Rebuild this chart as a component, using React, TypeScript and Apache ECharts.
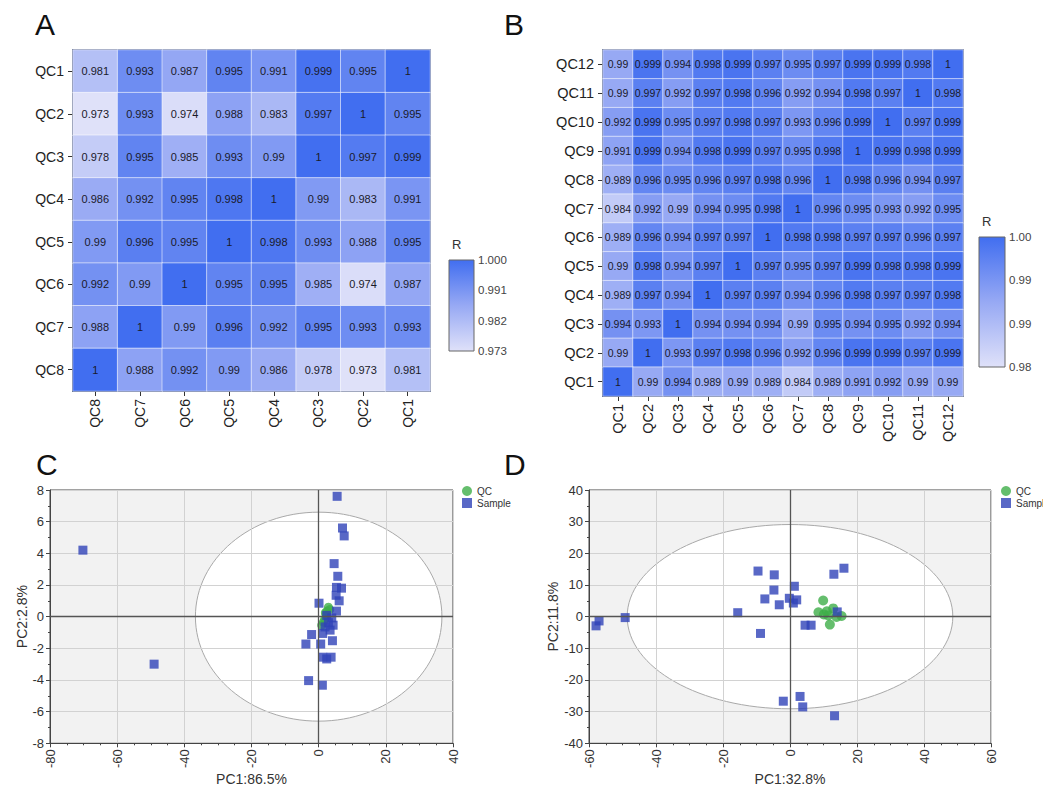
import React, { useEffect, useRef } from "react";
import * as echarts from "echarts";

const FONT = "'Liberation Sans', Arial, sans-serif";

// ---------- Panel A ----------
const rowsA = ["QC1", "QC2", "QC3", "QC4", "QC5", "QC6", "QC7", "QC8"];
const colsA = ["QC8", "QC7", "QC6", "QC5", "QC4", "QC3", "QC2", "QC1"];
const corrA = [
  [0.981, 0.993, 0.987, 0.995, 0.991, 0.999, 0.995, 1],
  [0.973, 0.993, 0.974, 0.988, 0.983, 0.997, 1, 0.995],
  [0.978, 0.995, 0.985, 0.993, 0.99, 1, 0.997, 0.999],
  [0.986, 0.992, 0.995, 0.998, 1, 0.99, 0.983, 0.991],
  [0.99, 0.996, 0.995, 1, 0.998, 0.993, 0.988, 0.995],
  [0.992, 0.99, 1, 0.995, 0.995, 0.985, 0.974, 0.987],
  [0.988, 1, 0.99, 0.996, 0.992, 0.995, 0.993, 0.993],
  [1, 0.988, 0.992, 0.99, 0.986, 0.978, 0.973, 0.981],
];
const rangeA = [0.973, 1.0];
const ticksA = ["1.000", "0.991", "0.982", "0.973"];

// ---------- Panel B ----------
const rowsB = ["QC12", "QC11", "QC10", "QC9", "QC8", "QC7", "QC6", "QC5", "QC4", "QC3", "QC2", "QC1"];
const colsB = ["QC1", "QC2", "QC3", "QC4", "QC5", "QC6", "QC7", "QC8", "QC9", "QC10", "QC11", "QC12"];
const corrB = [
  [0.99, 0.999, 0.994, 0.998, 0.999, 0.997, 0.995, 0.997, 0.999, 0.999, 0.998, 1],
  [0.99, 0.997, 0.992, 0.997, 0.998, 0.996, 0.992, 0.994, 0.998, 0.997, 1, 0.998],
  [0.992, 0.999, 0.995, 0.997, 0.998, 0.997, 0.993, 0.996, 0.999, 1, 0.997, 0.999],
  [0.991, 0.999, 0.994, 0.998, 0.999, 0.997, 0.995, 0.998, 1, 0.999, 0.998, 0.999],
  [0.989, 0.996, 0.995, 0.996, 0.997, 0.998, 0.996, 1, 0.998, 0.996, 0.994, 0.997],
  [0.984, 0.992, 0.99, 0.994, 0.995, 0.998, 1, 0.996, 0.995, 0.993, 0.992, 0.995],
  [0.989, 0.996, 0.994, 0.997, 0.997, 1, 0.998, 0.998, 0.997, 0.997, 0.996, 0.997],
  [0.99, 0.998, 0.994, 0.997, 1, 0.997, 0.995, 0.997, 0.999, 0.998, 0.998, 0.999],
  [0.989, 0.997, 0.994, 1, 0.997, 0.997, 0.994, 0.996, 0.998, 0.997, 0.997, 0.998],
  [0.994, 0.993, 1, 0.994, 0.994, 0.994, 0.99, 0.995, 0.994, 0.995, 0.992, 0.994],
  [0.99, 1, 0.993, 0.997, 0.998, 0.996, 0.992, 0.996, 0.999, 0.999, 0.997, 0.999],
  [1, 0.99, 0.994, 0.989, 0.99, 0.989, 0.984, 0.989, 0.991, 0.992, 0.99, 0.99],
];
const rangeB = [0.98, 1.0];
const ticksB = ["1.00", "0.99", "0.99", "0.98"];

// ---------- Panel C ----------
const qcC = [
  [2.9, 0.6], [2.5, 0.35], [3.3, 0.45], [2.2, 0.1], [2.0, 0.25],
  [1.8, -0.15], [1.4, -0.35], [0.9, -0.55],
];
const sampleC = [
  [-70.2, 4.2], [-49.0, -3.0], [5.5, 7.6], [7.1, 5.6], [7.6, 5.1],
  [4.6, 3.35], [5.7, 2.55], [5.3, 1.85], [6.8, 1.8], [5.2, 1.35],
  [6.1, 1.0], [0.1, 0.85], [5.3, 0.35], [2.4, 0.08], [3.9, -0.08],
  [2.9, -0.38], [4.3, -0.54], [1.9, -0.65], [3.4, -0.85], [1.2, -1.06],
  [-2.1, -1.13], [-3.8, -1.73], [0.6, -1.73], [4.1, -1.52], [1.2, -2.56],
  [2.4, -2.67], [3.7, -2.56], [-3.0, -4.04], [1.1, -4.33],
];
const ellipseC = [0, 0, 36.7, 6.6];

// ---------- Panel D ----------
const qcD = [
  [9.9, 5.1], [8.5, 1.4], [11.0, 1.7], [12.9, 2.6], [11.9, -2.5],
  [15.4, 0.2], [13.9, -0.1], [10.1, 0.7], [11.4, 0.4],
];
const sampleD = [
  [-57.0, -1.35], [-57.9, -2.9], [-49.2, -0.3], [-15.6, 1.25], [-9.55, 14.4],
  [-4.7, 13.2], [-4.8, 8.4], [-7.5, 5.6], [-3.2, 3.75], [-8.8, -5.3],
  [-0.2, 5.8], [1.3, 9.6], [2.0, 5.3], [1.0, 4.3], [4.5, -2.7],
  [6.3, -2.7], [13.1, 13.4], [16.1, 15.3], [14.1, 1.5], [-2.0, -26.7],
  [3.0, -25.2], [3.8, -28.5], [13.3, -31.3],
];
const ellipseD = [0, 0, 48.6, 29.1];

const lightC = "#dfe1f9";
const midC = "#97a9f4";
const darkC = "#416ef0";

function heatData(m: number[][]) {
  const out: number[][] = [];
  m.forEach((row, r) => row.forEach((v, c) => out.push([c, r, v])));
  return out;
}

function heatAxes(gridIndex: number, cols: string[], rows: string[], labelSize: number) {
  const lineCol = "#2a3a66";
  return {
    x: {
      type: "category", gridIndex, data: cols, position: "bottom",
      axisLine: { show: true, lineStyle: { color: lineCol, width: 1.5 } },
      axisTick: { show: true, alignWithLabel: true, length: 5, lineStyle: { color: "#333" } },
      axisLabel: { rotate: 90, fontSize: labelSize, color: "#222", margin: 8, fontFamily: FONT },
      splitLine: { show: false }, splitArea: { show: false },
    },
    y: {
      type: "category", gridIndex, data: rows, inverse: true,
      axisLine: { show: true, lineStyle: { color: lineCol, width: 1.5 } },
      axisTick: { show: true, alignWithLabel: true, length: 5, lineStyle: { color: "#333" } },
      axisLabel: { fontSize: labelSize, color: "#222", margin: 9, fontFamily: FONT },
      splitLine: { show: false }, splitArea: { show: false },
    },
  };
}

function pcaAxes(gridIndex: number, xr: number[], xi: number, yr: number[], yi: number, xName: string, yName: string, yGap: number) {
  const c = "#444";
  return {
    x: {
      type: "value", gridIndex, min: xr[0], max: xr[1], interval: xi, z: 1,
      axisLine: { show: true, onZero: false, lineStyle: { color: c } },
      axisTick: { show: true, length: 4, lineStyle: { color: c } },
      minorTick: { show: true, splitNumber: 4, length: 2, lineStyle: { color: c } },
      axisLabel: { rotate: 90, fontSize: 13, color: "#333", margin: 6, fontFamily: FONT },
      splitLine: { show: true, lineStyle: { color: "#d2d2d2" } },
      name: xName, nameLocation: "middle", nameGap: 25,
      nameTextStyle: { fontSize: 14, color: "#333", fontFamily: FONT },
    },
    y: {
      type: "value", gridIndex, min: yr[0], max: yr[1], interval: yi, z: 1,
      axisLine: { show: true, onZero: false, lineStyle: { color: c } },
      axisTick: { show: true, length: 4, lineStyle: { color: c } },
      minorTick: { show: true, splitNumber: 2, length: 2, lineStyle: { color: c } },
      axisLabel: { fontSize: 13, color: "#333", margin: 6, fontFamily: FONT },
      splitLine: { show: true, lineStyle: { color: "#d2d2d2" } },
      name: yName, nameLocation: "middle", nameGap: yGap,
      nameTextStyle: { fontSize: 14, color: "#333", fontFamily: FONT },
    },
  };
}

function ellipseSeries(axisIndex: number, e: number[]) {
  return {
    type: "custom", xAxisIndex: axisIndex, yAxisIndex: axisIndex, z: 0, silent: true,
    data: [e],
    renderItem: (params: any, api: any) => {
      const c = api.coord([api.value(0), api.value(1)]);
      const p = api.coord([api.value(0) + api.value(2), api.value(1) + api.value(3)]);
      const cs = params.coordSys;
      return {
        type: "group",
        children: [
          { type: "rect", shape: { x: cs.x, y: cs.y, width: cs.width, height: cs.height }, style: { fill: "#f2f2f2", stroke: "#444", lineWidth: 1 } },
          { type: "ellipse", shape: { cx: c[0], cy: c[1], rx: Math.abs(p[0] - c[0]), ry: Math.abs(p[1] - c[1]) }, style: { fill: "#ffffff", stroke: "#a9a9a9", lineWidth: 1 } },
        ],
      };
    },
  };
}

function zeroLines(axisIndex: number) {
  return {
    type: "scatter", xAxisIndex: axisIndex, yAxisIndex: axisIndex, data: [], z: 2, silent: true,
    markLine: {
      silent: true, symbol: ["none", "none"], label: { show: false }, animation: false,
      lineStyle: { color: "#555", width: 1.3, type: "solid" },
      data: [{ xAxis: 0 }, { yAxis: 0 }],
    },
  };
}

function colorBar(x: number, y: number, w: number, h: number, ticks: string[]) {
  const kids: any[] = [
    { type: "text", left: x + 3, top: y - 22, style: { text: "R", font: `13px ${FONT}`, fill: "#333" } },
    {
      type: "rect", shape: { x, y, width: w, height: h },
      style: {
        fill: new echarts.graphic.LinearGradient(0, 0, 0, 1, [
          { offset: 0, color: darkC }, { offset: 0.5, color: midC }, { offset: 1, color: lightC },
        ]),
        stroke: "#666", lineWidth: 1,
      },
    },
  ];
  ticks.forEach((t, i) => {
    kids.push({
      type: "text", x: x + w + 4, y: y + (h * i) / (ticks.length - 1),
      style: { text: t, font: `11.5px ${FONT}`, fill: "#444", verticalAlign: "middle", align: "left" },
    });
  });
  return kids;
}

export default function App() {
  const ref = useRef<HTMLDivElement>(null);
  useEffect(() => {
    if (!ref.current) return;
    const chart = echarts.init(ref.current, undefined, { renderer: "svg" });
    const hA = heatAxes(0, colsA, rowsA, 14);
    const hB = heatAxes(1, colsB, rowsB, 14.5);
    const pC = pcaAxes(2, [-80, 40], 20, [-8, 8], 2, "PC1:86.5%", "PC2:2.8%", 17);
    const pD = pcaAxes(3, [-60, 60], 20, [-40, 40], 10, "PC1:32.8%", "PC2:11.8%", 27);
    const letter = (t: string, x: number, y: number) => ({
      type: "text", left: x, top: y, style: { text: t, font: `30px ${FONT}`, fill: "#111" },
    });
    const legendCommon = {
      data: ["QC", "Sample"], orient: "vertical", itemWidth: 10, itemHeight: 10, itemGap: 2,
      textStyle: { fontSize: 10, color: "#333", fontFamily: FONT }, padding: 0,
    };
    const option: any = {
      animation: false,
      textStyle: { fontFamily: FONT },
      grid: [
        { left: 73, top: 50, width: 357, height: 341, show: true, borderColor: "#2a3a66", borderWidth: 1.5 },
        { left: 603, top: 50, width: 360, height: 346, show: true, borderColor: "#2a3a66", borderWidth: 1.5 },
        { left: 50, top: 490, width: 403, height: 256 },
        { left: 589, top: 490, width: 402, height: 256 },
      ],
      xAxis: [hA.x, hB.x, pC.x, pD.x],
      yAxis: [hA.y, hB.y, pC.y, pD.y],
      visualMap: [
        { type: "continuous", seriesIndex: 0, min: rangeA[0], max: rangeA[1], show: false, inRange: { color: [lightC, midC, darkC] } },
        { type: "continuous", seriesIndex: 1, min: rangeB[0], max: rangeB[1], show: false, inRange: { color: [lightC, midC, darkC] } },
      ],
      legend: [
        { ...legendCommon, left: 462, top: 486 },
        { ...legendCommon, left: 1001, top: 486 },
      ],
      series: [
        {
          type: "heatmap", xAxisIndex: 0, yAxisIndex: 0, data: heatData(corrA),
          label: { show: true, fontSize: 11, color: "#1a1a2a", fontFamily: FONT, formatter: (p: any) => String(p.value[2]) },
          itemStyle: { borderColor: "rgba(255,255,255,0.55)", borderWidth: 1 },
        },
        {
          type: "heatmap", xAxisIndex: 1, yAxisIndex: 1, data: heatData(corrB),
          label: { show: true, fontSize: 10.5, color: "#1a1a2a", fontFamily: FONT, formatter: (p: any) => String(p.value[2]) },
          itemStyle: { borderColor: "rgba(255,255,255,0.55)", borderWidth: 1 },
        },
        ellipseSeries(2, ellipseC),
        zeroLines(2),
        { type: "scatter", name: "QC", xAxisIndex: 2, yAxisIndex: 2, data: qcC, symbol: "circle", symbolSize: 9, itemStyle: { color: "#3fae48" }, z: 3 },
        { type: "scatter", name: "Sample", xAxisIndex: 2, yAxisIndex: 2, data: sampleC, symbol: "rect", symbolSize: 9, itemStyle: { color: "#3042b8" }, z: 3 },
        ellipseSeries(3, ellipseD),
        zeroLines(3),
        { type: "scatter", name: "QC", xAxisIndex: 3, yAxisIndex: 3, data: qcD, symbol: "circle", symbolSize: 10, itemStyle: { color: "#3fae48" }, z: 3 },
        { type: "scatter", name: "Sample", xAxisIndex: 3, yAxisIndex: 3, data: sampleD, symbol: "rect", symbolSize: 9, itemStyle: { color: "#3042b8" }, z: 3 },
      ],
      graphic: [
        letter("A", 35, 9),
        letter("B", 504, 9),
        letter("C", 36, 449),
        letter("D", 504, 449),
        ...colorBar(449, 260, 25, 91, ticksA),
        ...colorBar(979, 237, 26, 130, ticksB),
      ],
    };
    chart.setOption(option);
    return () => chart.dispose();
  }, []);
  return (
    <div
      ref={ref}
      style={{ position: "fixed", left: 0, top: 0, width: 1043, height: 787, background: "#fff" }}
    />
  );
}
